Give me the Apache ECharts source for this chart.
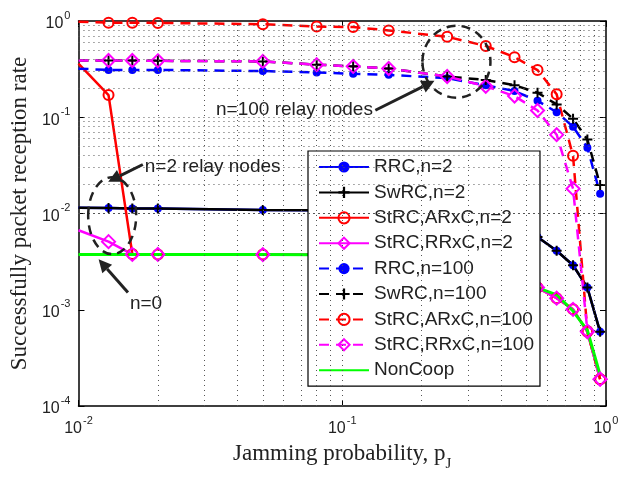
<!DOCTYPE html>
<html><head><meta charset="utf-8">
<script src="https://cdn.jsdelivr.net/npm/echarts@6/dist/echarts.min.js"></script>
<style>html,body{margin:0;padding:0;background:#fff}#c{width:627px;height:477px}</style>
</head><body><div id="c"></div>
<script>
const xVals = [0.01, 0.013, 0.016, 0.02, 0.05, 0.08, 0.11, 0.15, 0.25, 0.35, 0.45, 0.55, 0.65, 0.75, 0.85, 0.95];
const rrcN2     = [0.0115, 0.0114, 0.0113, 0.0113, 0.0109, 0.0108, 0.0106, 0.0104, 0.0097, 0.0088, 0.0075, 0.0057, 0.0041, 0.0029, 0.0017, 0.00059];
const swrcN2    = [0.0115, 0.0114, 0.0113, 0.0113, 0.0109, 0.0108, 0.0106, 0.0104, 0.0097, 0.0088, 0.0075, 0.0057, 0.0041, 0.0029, 0.0017, 0.00059];
const arxcN2    = [0.36, 0.17, 0.0038, 0.00376, 0.00374, 0.00373, 0.00369, 0.00362, 0.00336, 0.00303, 0.00251, 0.0017, 0.00132, 0.00101, 0.00059, 0.00019];
const rrxcN2    = [0.0067, 0.0051, 0.00376, 0.00376, 0.00374, 0.00373, 0.00369, 0.00362, 0.00336, 0.00303, 0.00251, 0.0017, 0.00132, 0.00101, 0.00059, 0.00019];
const rrcN100   = [0.32, 0.31, 0.31, 0.31, 0.302, 0.292, 0.283, 0.276, 0.2545, 0.215, 0.187, 0.148, 0.113, 0.0798, 0.0482, 0.016];
const swrcN100  = [0.389, 0.389, 0.389, 0.386, 0.38, 0.352, 0.338, 0.321, 0.265, 0.244, 0.215, 0.18, 0.136, 0.0967, 0.0586, 0.0198];
const arxcN100  = [0.984, 0.961, 0.961, 0.955, 0.926, 0.876, 0.864, 0.798, 0.685, 0.551, 0.421, 0.309, 0.173, 0.0397, 0.0006, 0.00019];
const rrxcN100  = [0.389, 0.389, 0.389, 0.386, 0.38, 0.352, 0.338, 0.321, 0.265, 0.21, 0.166, 0.1175, 0.0659, 0.0181, 0.0006, 0.00019];
const nonCoop   = [0.00376, 0.00376, 0.00376, 0.00376, 0.00374, 0.00373, 0.00369, 0.00362, 0.00336, 0.00303, 0.00251, 0.0017, 0.00143, 0.00097, 0.00061, 0.00021];
const seriesNames = ['RRC,n=2','SwRC,n=2','StRC,ARxC,n=2','StRC,RRxC,n=2','RRC,n=100','SwRC,n=100','StRC,ARxC,n=100','StRC,RRxC,n=100','NonCoop'];
const xMinor = [0.02,0.03,0.04,0.05,0.06,0.07,0.08,0.09,0.1,0.2,0.3,0.4,0.5,0.6,0.7,0.8,0.9];
const yMinor = [];
[1e-4,1e-3,1e-2,1e-1].forEach(d=>{for(let k=1;k<=9;k++){ if(!(d===1e-4&&k===1)) yMinor.push(+(d*k).toPrecision(3)); }});
// annotation anchors in data coordinates
const ann = {
  ell100: [0.271, 0.3775], ell2: [0.01342, 0.0095],
  arr100: [[0.1335, 0.1183],[0.2237, 0.2389]],
  arr2:   [[0.01754, 0.03227],[0.01296, 0.02141]],
  arr0:   [[0.0154, 0.00151],[0.01192, 0.003345]],
  txt100: [0.03323, 0.1183], txt2: [0.01784, 0.0303], txt0: [0.01567, 0.001143]
};

const PLUS = 'path://M4,0h2v4h4v2h-4v4h-2v-4h-4v-2h4z';
function mk(ys){ return xVals.map((x,i)=> i===0 ? {value:[x,ys[i]], symbol:'none'} : [x,ys[i]]); }
const DASH=[10,7];
function S(name, ys, color, dashed, sym, size, filled, lw){
  return {
    name, type:'line', data: mk(ys), showAllSymbol:true,
    symbol: sym, symbolSize: size,
    lineStyle:{color, width: lw||2.5, type: dashed?DASH:'solid'},
    itemStyle: filled ? {color} : {color:'rgba(255,255,255,0)', borderColor:color, borderWidth:2},
    emphasis:{disabled:true}, animation:false, clip:true
  };
}
const supFmt = v => { const e = Math.round(Math.log10(v)); return '{b|10}{s|' + e + '}'; };
const rich = { b:{fontSize:16, fontFamily:'Liberation Sans', color:'#222', lineHeight:22, verticalAlign:'bottom'},
               s:{fontSize:11, fontFamily:'Liberation Sans', color:'#222', lineHeight:11, verticalAlign:'top', padding:[0,0,0,1]} };
const gridStyle = {color:'#555', width:1, type:[1,4]};
const series = [
  S(seriesNames[0], rrcN2, '#0000ff', false, 'circle', 8, true),
  S(seriesNames[1], swrcN2, '#000000', false, PLUS, 10, true),
  S(seriesNames[2], arxcN2, '#ff0000', false, 'circle', 10, false),
  S(seriesNames[3], rrxcN2, '#ff00ff', false, 'diamond', 13, false),
  S(seriesNames[4], rrcN100, '#0000ff', true, 'circle', 8, true),
  S(seriesNames[5], swrcN100, '#000000', true, PLUS, 10, true),
  S(seriesNames[6], arxcN100, '#ff0000', true, 'circle', 10, false),
  S(seriesNames[7], rrxcN100, '#ff00ff', true, 'diamond', 13, false),
  Object.assign(S(seriesNames[8], nonCoop, '#00ff00', false, 'none', 0, true, 3), {symbol:'none'}),
  { name:'grid', type:'line', data:[], silent:true, z:1,
    markLine:{ silent:true, symbol:['none','none'], label:{show:false}, animation:false, lineStyle:gridStyle,
      data: xMinor.map(v=>({xAxis:v})).concat(yMinor.map(v=>({yAxis:v}))) } }
];
const legendData = seriesNames.map(n => n === 'NonCoop'
  ? {name:n, itemStyle:{color:'rgba(0,0,0,0)', borderColor:'rgba(0,0,0,0)', borderWidth:0}}
  : {name:n});
const chart = echarts.init(document.getElementById('c'), null, {renderer:'canvas'});
chart.setOption({
  backgroundColor:'#fff', animation:false,
  grid:{left:73, top:21, width:533, height:397, containLabel:false},
  xAxis:[{type:'log', logBase:10, min:0.01, max:1, position:'bottom',
    axisLine:{show:true, onZero:false, lineStyle:{color:'#000', width:1.5}},
    axisTick:{show:true, inside:true, length:6, lineStyle:{color:'#000'}},
    splitLine:{show:false}, axisLabel:{formatter:supFmt, rich, margin:9},
    name:'{n|Jamming probability, p}{sub|J}', nameLocation:'middle', nameGap:36,
    nameTextStyle:{rich:{n:{fontFamily:'Liberation Serif', fontSize:23, color:'#222', lineHeight:30, verticalAlign:'top'},
                         sub:{fontFamily:'Liberation Serif', fontSize:15, color:'#222', lineHeight:15, verticalAlign:'bottom'}}}},
    {type:'log', logBase:10, min:0.01, max:1, position:'top',
    axisLine:{show:true, onZero:false, lineStyle:{color:'#000', width:1.5}},
    axisTick:{show:true, inside:true, length:6, lineStyle:{color:'#000'}}, axisLabel:{show:false}, splitLine:{show:false}}],
  yAxis:[{type:'log', logBase:10, min:1e-4, max:1, position:'left',
    axisLine:{show:true, onZero:false, lineStyle:{color:'#000', width:1.5}},
    axisTick:{show:true, inside:true, length:6, lineStyle:{color:'#000'}},
    splitLine:{show:false}, axisLabel:{formatter:supFmt, rich, margin:8},
    name:'Successfully packet reception rate', nameLocation:'middle', nameGap:42, nameRotate:90,
    nameTextStyle:{fontFamily:'Liberation Serif', fontSize:23, color:'#222'}},
    {type:'log', logBase:10, min:1e-4, max:1, position:'right',
    axisLine:{show:true, onZero:false, lineStyle:{color:'#000', width:1.5}},
    axisTick:{show:true, inside:true, length:6, lineStyle:{color:'#000'}}, axisLabel:{show:false}, splitLine:{show:false}}],
  legend:{data:legendData, orient:'vertical', left:308, top:151, padding:[6,6,6,10],
    itemWidth:50, itemHeight:14, itemGap:5.4, backgroundColor:'#fff', borderColor:'#000', borderWidth:1.2,
    textStyle:{fontFamily:'Liberation Sans', fontSize:19, color:'#222', lineHeight:20}, selectedMode:false},
  series
});
function P(d){ return chart.convertToPixel({gridIndex:0}, d); }
function arrow(a){
  const s=P(a[0]), t=P(a[1]); const dx=t[0]-s[0], dy=t[1]-s[1]; const L=Math.hypot(dx,dy); const ux=dx/L, uy=dy/L;
  const hl=13, hw=6.5; const bx=t[0]-ux*hl, by=t[1]-uy*hl;
  return [
    {type:'line', z:100, shape:{x1:s[0], y1:s[1], x2:bx, y2:by}, style:{stroke:'#222', lineWidth:3}},
    {type:'polygon', z:100, shape:{points:[[t[0],t[1]],[bx-uy*hw, by+ux*hw],[bx+uy*hw, by-ux*hw]]}, style:{fill:'#222'}}
  ];
}
function txt(d, text){ const p=P(d); return {type:'text', z:100, style:{text, x:p[0], y:p[1], font:'19px "Liberation Sans"', fill:'#222', align:'left', verticalAlign:'middle'}}; }
function ell(d, rx, ry){ const p=P(d); return {type:'ellipse', z:100, shape:{cx:p[0], cy:p[1], rx, ry}, style:{fill:'none', stroke:'#222', lineWidth:2.5, lineDash:[9,6]}}; }
chart.setOption({graphic:[].concat(
  ell(ann.ell100, 34, 36), ell(ann.ell2, 24, 38.5),
  arrow(ann.arr100), arrow(ann.arr2), arrow(ann.arr0),
  txt(ann.txt100,'n=100 relay nodes'), txt(ann.txt2,'n=2 relay nodes'), txt(ann.txt0,'n=0')
)});
</script></body></html>
